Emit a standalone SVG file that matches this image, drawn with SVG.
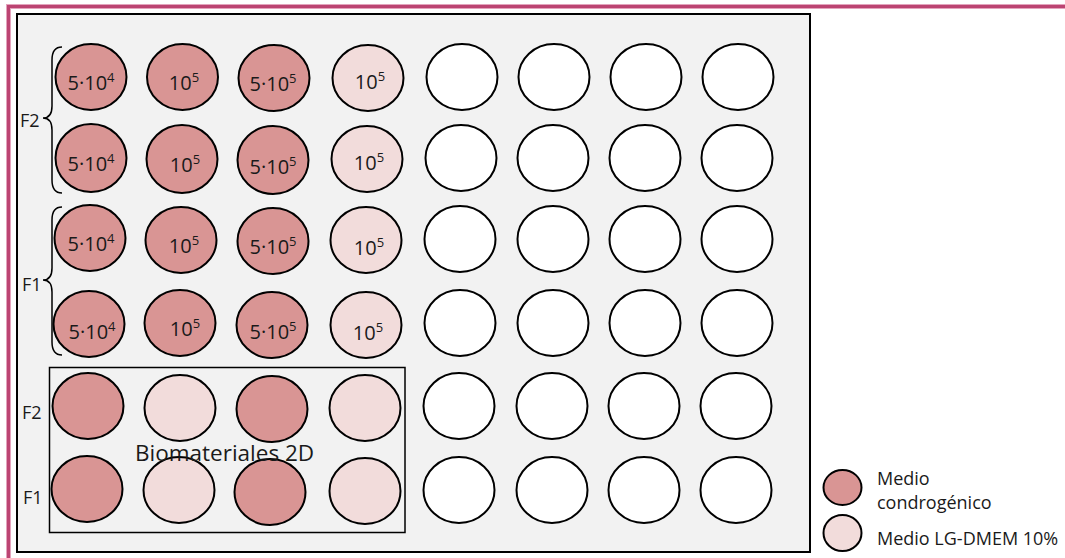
<svg xmlns="http://www.w3.org/2000/svg" width="1065" height="558" viewBox="0 0 1065 558">
<style>
.w{stroke:#000;stroke-width:2}
.d{fill:#d99594}
.l{fill:#f2dcdb}
.e{fill:#ffffff}
.t{font-family:"Open Sans","Liberation Sans",sans-serif;font-size:20px;fill:#1a1a1a;text-anchor:middle}
.s{font-size:13px}
.lab{font-family:"Open Sans","Liberation Sans",sans-serif;font-size:18px;fill:#1a1a1a}
.br{fill:none;stroke:#000;stroke-width:1.5}
</style>
<rect width="1065" height="558" fill="#ffffff"/>
<g id="frame">
<rect x="8.5" y="6.5" width="1100" height="600" fill="none" stroke="#e3a3bc" stroke-width="5"/>
<rect x="8.5" y="6.5" width="1100" height="600" fill="none" stroke="#bc4472" stroke-width="3"/>
</g>
<g id="plate"><rect x="17" y="14" width="793" height="538" fill="#f2f2f2" stroke="#000" stroke-width="2"/></g>
<g id="biomateriales-box"><rect x="49.5" y="367.5" width="355.5" height="165" fill="none" stroke="#000" stroke-width="1.5"/></g>
<g id="connectors">
<path class="br" d="M62,47 Q52,47 52,60 L52,106 Q52,118 43,118 Q52,118 52,130 L52,180 Q52,193 62,193"/>
<path class="br" d="M62,207 Q52,207 52,220 L52,268 Q52,280 43,280 Q52,280 52,292 L52,342 Q52,355 62,355"/>
</g>
<g id="labels-f">
<text class="lab" x="20" y="127">F2</text>
<text class="lab" x="22" y="291">F1</text>
<text class="lab" x="22" y="419">F2</text>
<text class="lab" x="23" y="504">F1</text>
</g>
<!-- row 1 -->
<g id="w-r1c1"><ellipse class="w d" cx="91" cy="77" rx="35.5" ry="33"/><text class="t" x="91" y="90">5·10<tspan class="s" dy="-8">4</tspan></text></g>
<g id="w-r1c2"><ellipse class="w d" cx="182.5" cy="77" rx="35.5" ry="33"/><text class="t" x="184" y="90">10<tspan class="s" dy="-8">5</tspan></text></g>
<g id="w-r1c3"><ellipse class="w d" cx="274" cy="78" rx="35.5" ry="33"/><text class="t" x="273" y="91">5·10<tspan class="s" dy="-8">5</tspan></text></g>
<g id="w-r1c4"><ellipse class="w l" cx="368" cy="78" rx="35.5" ry="33"/><text class="t" x="370" y="89">10<tspan class="s" dy="-8">5</tspan></text></g>
<g id="w-r1c5"><ellipse class="w e" cx="462" cy="77" rx="35.5" ry="33"/></g>
<g id="w-r1c6"><ellipse class="w e" cx="554" cy="77" rx="35.5" ry="33"/></g>
<g id="w-r1c7"><ellipse class="w e" cx="646" cy="77" rx="35.5" ry="33"/></g>
<g id="w-r1c8"><ellipse class="w e" cx="738" cy="77" rx="35.5" ry="33"/></g>
<!-- row 2 -->
<g id="w-r2c1"><ellipse class="w d" cx="91" cy="158" rx="35.5" ry="34"/><text class="t" x="91" y="171">5·10<tspan class="s" dy="-8">4</tspan></text></g>
<g id="w-r2c2"><ellipse class="w d" cx="182" cy="159" rx="35.5" ry="34"/><text class="t" x="185" y="172">10<tspan class="s" dy="-8">5</tspan></text></g>
<g id="w-r2c3"><ellipse class="w d" cx="273" cy="160" rx="35.5" ry="34"/><text class="t" x="273" y="174">5·10<tspan class="s" dy="-8">5</tspan></text></g>
<g id="w-r2c4"><ellipse class="w l" cx="367" cy="159" rx="35.5" ry="33"/><text class="t" x="369" y="170">10<tspan class="s" dy="-8">5</tspan></text></g>
<g id="w-r2c5"><ellipse class="w e" cx="461" cy="158" rx="35.5" ry="33"/></g>
<g id="w-r2c6"><ellipse class="w e" cx="553" cy="158" rx="35.5" ry="33"/></g>
<g id="w-r2c7"><ellipse class="w e" cx="645" cy="158" rx="35.5" ry="33"/></g>
<g id="w-r2c8"><ellipse class="w e" cx="737" cy="158" rx="35.5" ry="33"/></g>
<!-- row 3 -->
<g id="w-r3c1"><ellipse class="w d" cx="90" cy="238" rx="35.5" ry="33"/><text class="t" x="91" y="251">5·10<tspan class="s" dy="-8">4</tspan></text></g>
<g id="w-r3c2"><ellipse class="w d" cx="181" cy="240" rx="35.5" ry="33"/><text class="t" x="184" y="253">10<tspan class="s" dy="-8">5</tspan></text></g>
<g id="w-r3c3"><ellipse class="w d" cx="273" cy="241" rx="35.5" ry="33"/><text class="t" x="273" y="254">5·10<tspan class="s" dy="-8">5</tspan></text></g>
<g id="w-r3c4"><ellipse class="w l" cx="366" cy="240" rx="35.5" ry="33"/><text class="t" x="369" y="255">10<tspan class="s" dy="-8">5</tspan></text></g>
<g id="w-r3c5"><ellipse class="w e" cx="460" cy="239" rx="35.5" ry="33"/></g>
<g id="w-r3c6"><ellipse class="w e" cx="553" cy="239" rx="35.5" ry="33"/></g>
<g id="w-r3c7"><ellipse class="w e" cx="645" cy="239" rx="35.5" ry="33"/></g>
<g id="w-r3c8"><ellipse class="w e" cx="737" cy="239" rx="35.5" ry="33"/></g>
<!-- row 4 -->
<g id="w-r4c1"><ellipse class="w d" cx="89" cy="324" rx="35.5" ry="33"/><text class="t" x="92" y="339">5·10<tspan class="s" dy="-8">4</tspan></text></g>
<g id="w-r4c2"><ellipse class="w d" cx="180" cy="323" rx="35.5" ry="33"/><text class="t" x="185" y="336">10<tspan class="s" dy="-8">5</tspan></text></g>
<g id="w-r4c3"><ellipse class="w d" cx="272" cy="325" rx="35.5" ry="33"/><text class="t" x="273" y="339">5·10<tspan class="s" dy="-8">5</tspan></text></g>
<g id="w-r4c4"><ellipse class="w l" cx="366" cy="325" rx="35.5" ry="33"/><text class="t" x="368" y="340">10<tspan class="s" dy="-8">5</tspan></text></g>
<g id="w-r4c5"><ellipse class="w e" cx="460" cy="323" rx="35.5" ry="33"/></g>
<g id="w-r4c6"><ellipse class="w e" cx="553" cy="323" rx="35.5" ry="33"/></g>
<g id="w-r4c7"><ellipse class="w e" cx="645" cy="323" rx="35.5" ry="33"/></g>
<g id="w-r4c8"><ellipse class="w e" cx="737" cy="323" rx="35.5" ry="33"/></g>
<!-- row 5 -->
<g id="w-r5c1"><ellipse class="w d" cx="88" cy="406" rx="35.5" ry="33"/></g>
<g id="w-r5c2"><ellipse class="w l" cx="180" cy="408" rx="35.5" ry="33"/></g>
<g id="w-r5c3"><ellipse class="w d" cx="272" cy="409" rx="35.5" ry="33"/></g>
<g id="w-r5c4"><ellipse class="w l" cx="365" cy="408" rx="35.5" ry="33"/></g>
<g id="w-r5c5"><ellipse class="w e" cx="459" cy="406" rx="35.5" ry="33"/></g>
<g id="w-r5c6"><ellipse class="w e" cx="552" cy="406" rx="35.5" ry="33"/></g>
<g id="w-r5c7"><ellipse class="w e" cx="644" cy="406" rx="35.5" ry="33"/></g>
<g id="w-r5c8"><ellipse class="w e" cx="736" cy="406" rx="35.5" ry="33"/></g>
<!-- row 6 -->
<g id="w-r6c1"><ellipse class="w d" cx="87" cy="489" rx="35.5" ry="33"/></g>
<g id="w-r6c2"><ellipse class="w l" cx="179" cy="490" rx="35.5" ry="33"/></g>
<g id="w-r6c3"><ellipse class="w d" cx="270" cy="492" rx="35.5" ry="33"/></g>
<g id="w-r6c4"><ellipse class="w l" cx="365" cy="491" rx="35.5" ry="33"/></g>
<g id="w-r6c5"><ellipse class="w e" cx="459" cy="490" rx="35.5" ry="33"/></g>
<g id="w-r6c6"><ellipse class="w e" cx="552" cy="490" rx="35.5" ry="33"/></g>
<g id="w-r6c7"><ellipse class="w e" cx="644" cy="490" rx="35.5" ry="33"/></g>
<g id="w-r6c8"><ellipse class="w e" cx="736" cy="490" rx="35.5" ry="33"/></g>
<g id="biomateriales-label"><text x="135" y="461" font-family="'Open Sans','Liberation Sans',sans-serif" font-size="22.5" fill="#1a1a1a">Biomateriales 2D</text></g>
<g id="legend-condrogenico">
<ellipse class="w d" cx="842.5" cy="487.5" rx="19" ry="17.5"/>
<text class="lab" x="877" y="485">Medio</text>
<text class="lab" x="877" y="509">condrogénico</text>
</g>
<g id="legend-dmem">
<ellipse class="w l" cx="842.5" cy="533" rx="19" ry="18"/>
<text class="lab" x="877" y="545">Medio LG-DMEM 10%</text>
</g>
</svg>
